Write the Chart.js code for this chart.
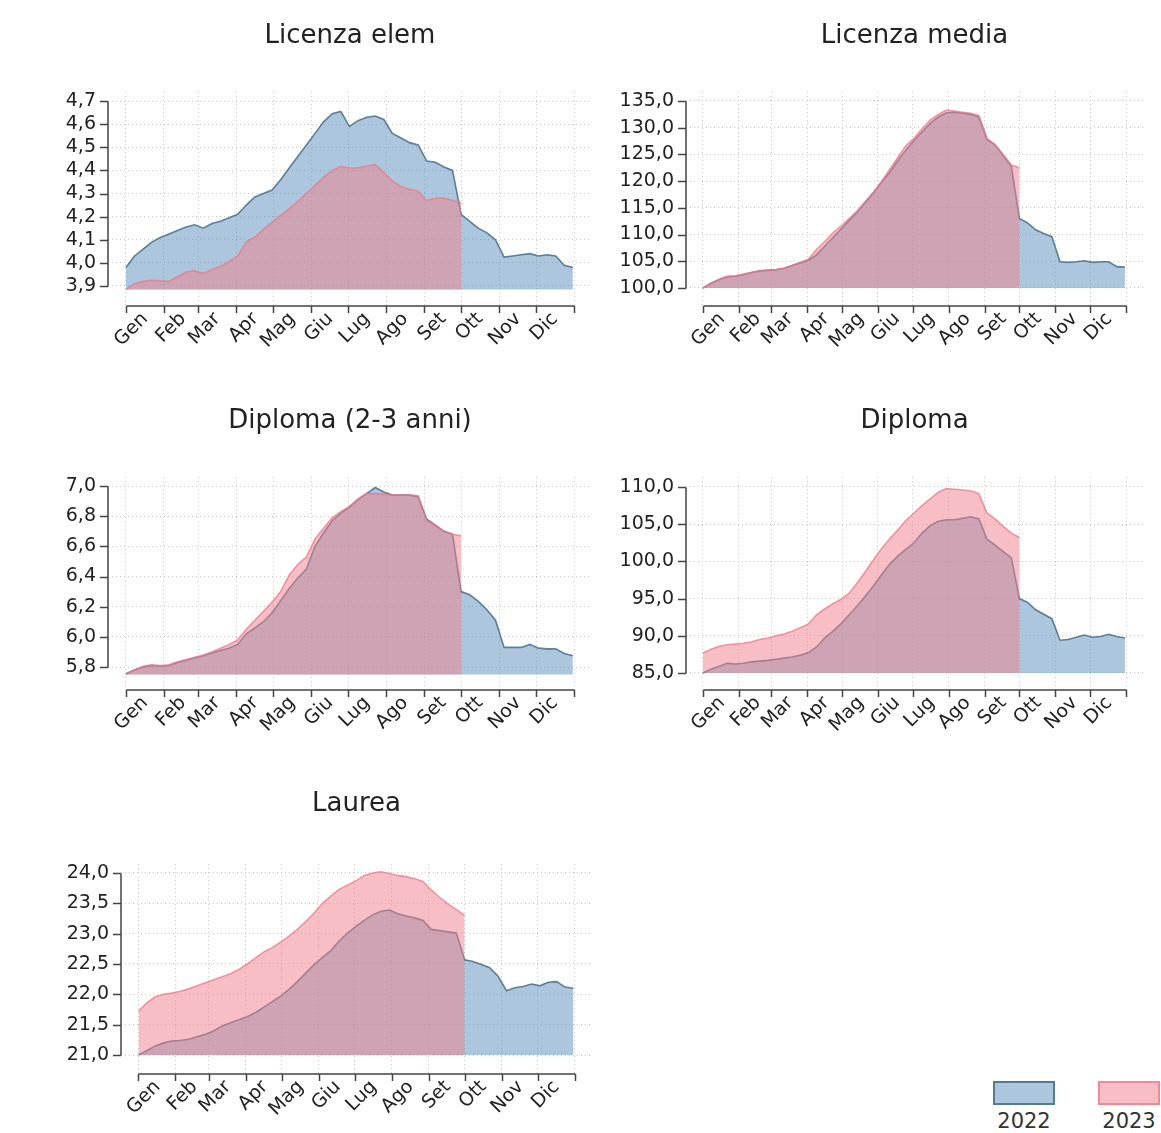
<!DOCTYPE html>
<html>
<head>
<meta charset="utf-8">
<title>Andamento settimanale per titolo di studio</title>
<script src="https://cdn.jsdelivr.net/npm/chart.js@4.4.1/dist/chart.umd.min.js"></script>
<style>
  body { margin: 0; background: #fff; width: 1161px; height: 1133px; position: relative; overflow: hidden;
         font-family: 'DejaVu Sans', 'Liberation Sans', Arial, sans-serif; }
  canvas { position: absolute; }
  .key { position: absolute; top: 1081px; width: 62px; text-align: center; }
  .key .box { display: block; width: 58px; height: 20px; border: 2px solid; }
  .key .lab { display: block; font-size: 21px; color: #333; margin-top: 3px; line-height: 26px; }
</style>
</head>
<body>
<script>
// x axis: month starts (day of year) and their labels
const months = ['Gen', 'Feb', 'Mar', 'Apr', 'Mag', 'Giu', 'Lug', 'Ago', 'Set', 'Ott', 'Nov', 'Dic', ''];
const monthStartDay = [0, 31, 59, 90, 120, 151, 181, 212, 243, 273, 304, 334, 365];
const seriesNames = ['2022', '2023'];

// weekly values (2022 = full year, 2023 = up to end of September)
const licElem2022 = [3.98, 4.03, 4.06, 4.09, 4.11, 4.125, 4.14, 4.155, 4.165, 4.15, 4.17, 4.18, 4.195, 4.21,
  4.25, 4.285, 4.30, 4.315, 4.36, 4.41, 4.46, 4.51, 4.56, 4.61, 4.645, 4.655, 4.59, 4.615, 4.63, 4.635,
  4.62, 4.56, 4.54, 4.52, 4.51, 4.44, 4.435, 4.415, 4.40, 4.21, 4.18, 4.15, 4.13, 4.10, 4.025, 4.03,
  4.035, 4.04, 4.03, 4.035, 4.03, 3.99, 3.98];
const licElem2023 = [3.885, 3.91, 3.92, 3.925, 3.922, 3.92, 3.94, 3.96, 3.966, 3.955, 3.97, 3.985, 4.005, 4.03,
  4.09, 4.112, 4.145, 4.175, 4.205, 4.235, 4.265, 4.30, 4.335, 4.37, 4.40, 4.418, 4.41, 4.41, 4.418, 4.425,
  4.39, 4.355, 4.33, 4.318, 4.31, 4.27, 4.28, 4.28, 4.27, 4.26];
const licElemTicks = [3.9, 4.0, 4.1, 4.2, 4.3, 4.4, 4.5, 4.6, 4.7];

const licMedia2022 = [100.0, 100.9, 101.6, 102.1, 102.2, 102.5, 102.9, 103.2, 103.3, 103.4, 103.7, 104.2, 104.7,
  105.2, 106.2, 107.8, 109.4, 111.0, 112.6, 114.2, 116.0, 117.8, 119.8, 121.6, 123.8, 125.8, 127.6, 129.2,
  130.8, 132.0, 132.8, 132.9, 132.7, 132.5, 132.0, 127.8, 126.8, 124.8, 122.8, 113.0, 112.2, 110.9, 110.2,
  109.6, 104.9, 104.8, 104.9, 105.1, 104.8, 104.9, 104.9, 104.0, 103.9];
const licMedia2023 = [100.0, 100.8, 101.6, 102.2, 102.3, 102.6, 102.9, 103.2, 103.3, 103.4, 103.7, 104.2, 104.8,
  105.4, 107.2, 108.7, 110.3, 111.6, 113.0, 114.4, 116.2, 117.9, 119.9, 122.2, 124.4, 126.6, 128.0, 129.8,
  131.4, 132.5, 133.3, 133.1, 132.9, 132.7, 132.3, 128.0, 126.8, 125.0, 123.0, 122.5];
const licMediaTicks = [100, 105, 110, 115, 120, 125, 130, 135];

const dipl23_2022 = [5.755, 5.78, 5.80, 5.81, 5.805, 5.81, 5.83, 5.845, 5.86, 5.875, 5.895, 5.91, 5.925, 5.95,
  6.02, 6.06, 6.10, 6.16, 6.24, 6.32, 6.39, 6.45, 6.60, 6.69, 6.77, 6.82, 6.86, 6.91, 6.95, 6.99, 6.96, 6.94,
  6.94, 6.94, 6.93, 6.78, 6.74, 6.70, 6.68, 6.30, 6.28, 6.235, 6.18, 6.11, 5.93, 5.93, 5.93, 5.95, 5.925,
  5.92, 5.92, 5.89, 5.875];
const dipl23_2023 = [5.75, 5.78, 5.805, 5.815, 5.81, 5.815, 5.835, 5.85, 5.865, 5.88, 5.90, 5.925, 5.95, 5.98,
  6.05, 6.11, 6.17, 6.23, 6.30, 6.41, 6.48, 6.53, 6.65, 6.72, 6.79, 6.83, 6.865, 6.915, 6.95, 6.95, 6.945,
  6.94, 6.94, 6.94, 6.935, 6.77, 6.74, 6.70, 6.68, 6.67];
const dipl23Ticks = [5.8, 6.0, 6.2, 6.4, 6.6, 6.8, 7.0];

const diploma2022 = [85.0, 85.5, 85.9, 86.3, 86.2, 86.3, 86.5, 86.6, 86.7, 86.85, 87.0, 87.15, 87.4, 87.75,
  88.5, 89.7, 90.6, 91.6, 92.8, 94.0, 95.3, 96.7, 98.2, 99.6, 100.7, 101.6, 102.5, 103.8, 104.8, 105.4,
  105.6, 105.6, 105.8, 106.0, 105.7, 103.0, 102.2, 101.3, 100.5, 95.0, 94.5, 93.5, 92.9, 92.3, 89.4, 89.5,
  89.8, 90.1, 89.8, 89.9, 90.2, 89.9, 89.7];
const diploma2023 = [87.7, 88.2, 88.6, 88.8, 88.9, 89.0, 89.2, 89.5, 89.7, 90.0, 90.25, 90.6, 91.1, 91.6,
  92.8, 93.6, 94.3, 94.9, 95.7, 97.1, 98.6, 100.2, 101.7, 103.0, 104.2, 105.5, 106.5, 107.5, 108.4, 109.3,
  109.8, 109.7, 109.6, 109.5, 109.1, 106.5, 105.7, 104.7, 103.8, 103.2];
const diplomaTicks = [85, 90, 95, 100, 105, 110];

const laurea2022 = [21.0, 21.07, 21.15, 21.2, 21.23, 21.24, 21.26, 21.3, 21.34, 21.4, 21.48, 21.53, 21.58, 21.63,
  21.7, 21.79, 21.88, 21.97, 22.08, 22.21, 22.35, 22.49, 22.61, 22.72, 22.88, 23.01, 23.12, 23.22, 23.31,
  23.37, 23.39, 23.33, 23.29, 23.26, 23.22, 23.07, 23.05, 23.03, 23.01, 22.57, 22.54, 22.49, 22.44, 22.3,
  22.06, 22.11, 22.13, 22.17, 22.14, 22.2, 22.21, 22.12, 22.1];
const laurea2023 = [21.72, 21.86, 21.96, 22.0, 22.02, 22.05, 22.09, 22.14, 22.19, 22.24, 22.29, 22.34, 22.41,
  22.5, 22.6, 22.7, 22.77, 22.86, 22.96, 23.07, 23.2, 23.34, 23.5, 23.62, 23.73, 23.8, 23.87, 23.96, 24.0,
  24.02, 23.99, 23.96, 23.94, 23.91, 23.86, 23.72, 23.6, 23.49, 23.4, 23.3];
const laureaTicks = [21.0, 21.5, 22.0, 22.5, 23.0, 23.5, 24.0];

// styles
const FONT = "'DejaVu Sans', 'Liberation Sans', Arial, sans-serif";
const fills = ['rgba(70, 130, 180, 0.45)', 'rgba(240, 128, 140, 0.5)'];
const lines = ['rgba(72, 108, 135, 0.85)', 'rgba(236, 120, 135, 0.75)'];
const gridColor = '#c8c8c8';
const axisColor = '#444';
const textColor = '#222';
const TITLE_SIZE = 26;

// panel placement on the page (canvas box + plot area edges), y range per panel
const panels = [
  { title: 'Licenza elem', a: licElem2022, b: licElem2023, ticks: licElemTicks, min: 3.8135, max: 4.739,
    box: { left: 0, top: 0, width: 600, height: 385 }, area: { left: 108, right: 592, top: 92, bottom: 306 } },
  { title: 'Licenza media', a: licMedia2022, b: licMedia2023, ticks: licMediaTicks, min: 96.63, max: 136.68,
    box: { left: 580, top: 0, width: 581, height: 385 }, area: { left: 686, right: 1143, top: 92, bottom: 306 } },
  { title: 'Diploma (2-3 anni)', a: dipl23_2022, b: dipl23_2023, ticks: dipl23Ticks, min: 5.6475, max: 7.06,
    box: { left: 0, top: 385, width: 600, height: 385 }, area: { left: 108, right: 592, top: 477, bottom: 690 } },
  { title: 'Diploma', a: diploma2022, b: diploma2023, ticks: diplomaTicks, min: 82.715, max: 111.34,
    box: { left: 580, top: 385, width: 581, height: 385 }, area: { left: 686, right: 1143, top: 477, bottom: 690 } },
  { title: 'Laurea', a: laurea2022, b: laurea2023, ticks: laureaTicks, min: 20.687, max: 24.148,
    box: { left: 0, top: 768, width: 600, height: 365 }, area: { left: 121, right: 592, top: 864, bottom: 1074 } }
];

// R-style detached axes: line only between first and last tick, ticks outward
const rAxes = {
  id: 'rAxes',
  afterDraw(chart) {
    const { ctx, chartArea, scales: { x, y } } = chart;
    ctx.save();
    ctx.strokeStyle = axisColor;
    ctx.lineWidth = 1.5;
    ctx.beginPath();
    const yt = y.ticks.map(t => Math.round(y.getPixelForValue(t.value)) + 0.5);
    ctx.moveTo(chartArea.left, yt[0]);
    ctx.lineTo(chartArea.left, yt[yt.length - 1]);
    yt.forEach(p => { ctx.moveTo(chartArea.left, p); ctx.lineTo(chartArea.left - 8, p); });
    const xt = x.ticks.map(t => Math.round(x.getPixelForValue(t.value)) + 0.5);
    ctx.moveTo(xt[0], chartArea.bottom);
    ctx.lineTo(xt[xt.length - 1], chartArea.bottom);
    xt.forEach(p => { ctx.moveTo(p, chartArea.bottom); ctx.lineTo(p, chartArea.bottom + 7); });
    ctx.stroke();
    ctx.restore();
  }
};

const toPoints = vals => vals.map((v, i) => ({ x: i * 7, y: v }));

panels.forEach(p => {
  const cv = document.createElement('canvas');
  cv.width = p.box.width;
  cv.height = p.box.height;
  cv.style.left = p.box.left + 'px';
  cv.style.top = p.box.top + 'px';
  document.body.appendChild(cv);

  const yWidth = p.area.left - p.box.left;
  const xHeight = p.box.top + p.box.height - p.area.bottom;
  const padRight = p.box.left + p.box.width - p.area.right;
  const titleTop = 21;
  const titleBottom = (p.area.top - p.box.top) - titleTop - TITLE_SIZE * 1.2;
  const base = Math.min(...p.a, ...p.b);

  new Chart(cv, {
    type: 'line',
    data: {
      datasets: [p.a, p.b].map((vals, k) => ({
        label: seriesNames[k],
        data: toPoints(vals),
        backgroundColor: fills[k],
        borderColor: lines[k],
        borderWidth: 1.6,
        pointRadius: 0,
        tension: 0,
        fill: { value: base },
        order: 2 - k
      }))
    },
    options: {
      responsive: false,
      animation: false,
      events: [],
      layout: { padding: { left: 0, right: padRight, top: 0, bottom: 0 } },
      plugins: {
        legend: { display: false },
        tooltip: { enabled: false },
        title: {
          display: true, text: p.title, fullSize: false, color: textColor,
          font: { family: FONT, size: TITLE_SIZE, weight: 'normal' },
          padding: { top: titleTop, bottom: titleBottom }
        }
      },
      scales: {
        x: {
          type: 'linear', min: -14.6, max: 379.6,
          afterBuildTicks: s => { s.ticks = monthStartDay.map(v => ({ value: v })); },
          afterFit: s => { s.height = xHeight; },
          ticks: {
            autoSkip: false, minRotation: 45, maxRotation: 45, padding: 2, labelOffset: 19,
            color: textColor, font: { family: FONT, size: 19 },
            callback: (v, i) => months[i]
          },
          grid: { drawTicks: false, color: gridColor, lineWidth: 1 },
          border: { display: false, dash: [1, 3] }
        },
        y: {
          min: p.min, max: p.max,
          afterBuildTicks: s => { s.ticks = p.ticks.map(v => ({ value: v })); },
          afterFit: s => { s.width = yWidth; },
          ticks: {
            autoSkip: false, padding: 12, color: textColor,
            font: { family: FONT, size: 19 },
            callback: v => v.toFixed(1).replace('.', ',')
          },
          grid: { drawTicks: false, color: gridColor, lineWidth: 1 },
          border: { display: false, dash: [1, 3] }
        }
      }
    },
    plugins: [rAxes]
  });
});

// legend: box with the year underneath, bottom right
[993, 1098].forEach((left, k) => {
  const d = document.createElement('div');
  d.className = 'key';
  d.style.left = left + 'px';
  d.innerHTML = '<span class="box" style="background:' + fills[k] + ';border-color:' + lines[k] + '"></span>' +
    '<span class="lab">' + seriesNames[k] + '</span>';
  document.body.appendChild(d);
});
</script>
</body>
</html>
